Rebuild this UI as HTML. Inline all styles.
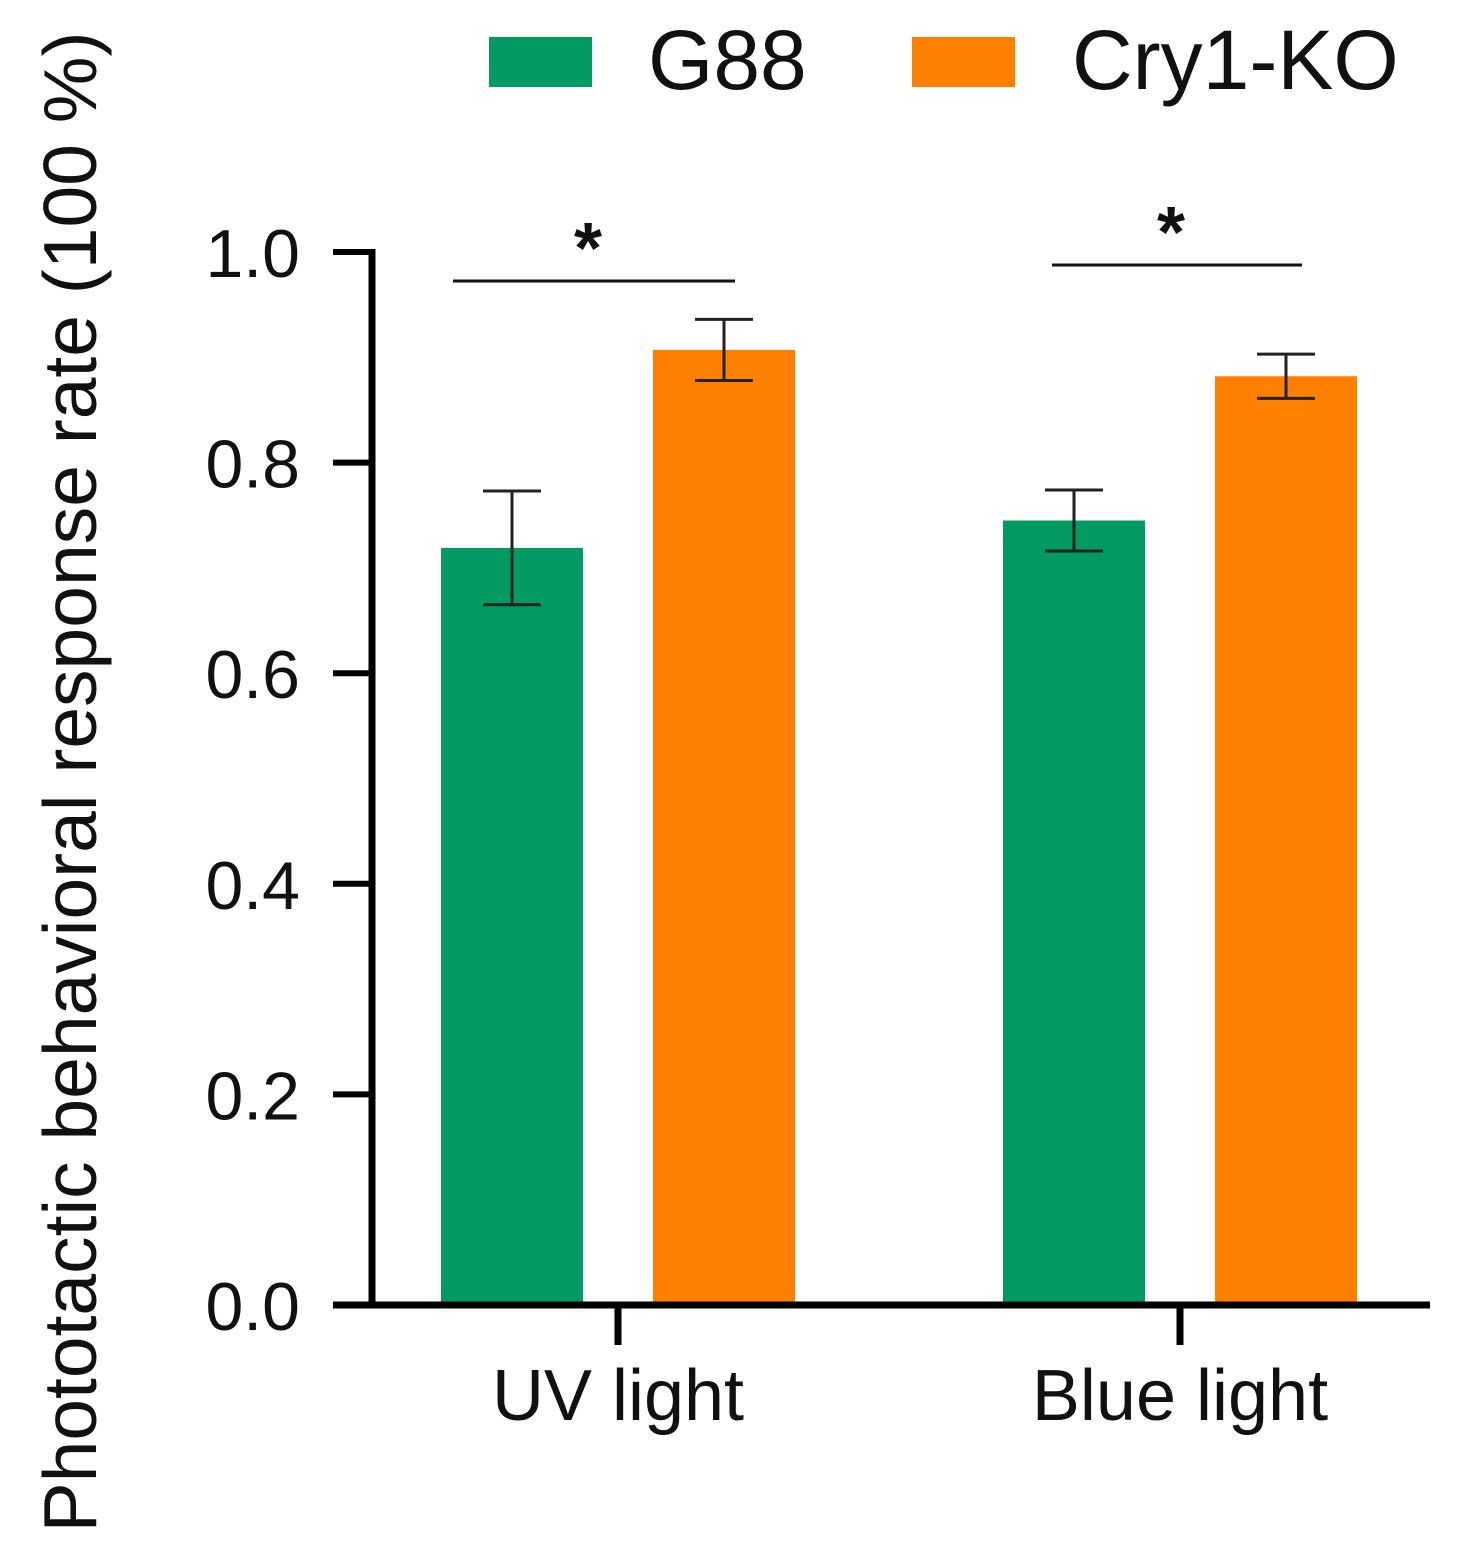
<!DOCTYPE html>
<html><head><meta charset="utf-8"><style>
html,body{margin:0;padding:0;background:#fff;}
svg text{font-family:"Liberation Sans",Arial,sans-serif;fill:#111;}
</style></head><body>
<svg id="chart" width="1459" height="1555" viewBox="0 0 1459 1555" xmlns="http://www.w3.org/2000/svg">
<g id="legend">
<rect x="489" y="37" width="103" height="50" fill="#009A62"/>
<text x="648" y="89" font-size="84">G88</text>
<rect x="912" y="37" width="103" height="50" fill="#FF8000"/>
<text x="1072" y="89" font-size="84">Cry1-KO</text>
</g>
<text transform="translate(96,782) rotate(-90)" text-anchor="middle" font-size="75">Phototactic behavioral response rate (100 %)</text>
<g id="plot"></g>
</svg>
<script>
const categories = ["UV light", "Blue light"];
const seriesNames = ["G88", "Cry1-KO"];
const g88Values = [0.719, 0.745];
const cryValues = [0.907, 0.882];
const g88Errors = [0.054, 0.029];
const cryErrors = [0.029, 0.021];
const yTicks = [0, 0.2, 0.4, 0.6, 0.8, 1.0];
const yTickLabels = ["0.0", "0.2", "0.4", "0.6", "0.8", "1.0"];
const sigLabels = ["*", "*"];

const NS = "http://www.w3.org/2000/svg";
const plot = document.getElementById("plot");
const y0 = 1305, y1 = 252;
const yScale = v => y0 - v * (y0 - y1);
const catCenters = [618, 1180];
const xCenter = i => catCenters[0] + i * (catCenters[1] - catCenters[0]);
const barW = 142, offset = 106;
const colors = ["#009A62", "#FF8000"];
const sigLayout = [{x1: 453, x2: 735, y: 281}, {x1: 1052, x2: 1302, y: 265}];
function mk(tag, attrs) { const e = document.createElementNS(NS, tag); for (const k in attrs) e.setAttribute(k, attrs[k]); plot.appendChild(e); return e; }

[g88Values, cryValues].forEach((vals, s) => {
  const errs = s === 0 ? g88Errors : cryErrors;
  vals.forEach((v, i) => {
    const cx = xCenter(i) + (s === 0 ? -offset : offset);
    const b = mk("rect", { x: cx - barW / 2, y: yScale(v), width: barW, height: y0 - yScale(v), fill: colors[s] });
    
    
    const hi = yScale(v + errs[i]), lo = yScale(v - errs[i]);
    const g = mk("path", { d: `M${cx} ${hi}V${lo}M${cx - 29} ${hi}H${cx + 29}M${cx - 29} ${lo}H${cx + 29}`, stroke: "#222", "stroke-width": 3, fill: "none" });
    
    
  });
});

categories.forEach((c, i) => {
  const L = sigLayout[i];
  const l = mk("line", { x1: L.x1, x2: L.x2, y1: L.y, y2: L.y, stroke: "#111", "stroke-width": 3 });
  
  
  const t = mk("text", { x: (L.x1 + L.x2) / 2 - 6, y: L.y - 8, "text-anchor": "middle", "font-size": 72, "font-weight": "bold" });
  t.textContent = sigLabels[i];
  
  
  const tk = mk("line", { x1: xCenter(i), x2: xCenter(i), y1: y0, y2: 1345, stroke: "#000", "stroke-width": 7 });
  
  
  const lb = mk("text", { x: xCenter(i), y: 1420, "text-anchor": "middle", "font-size": 72 });
  lb.textContent = c;
  
  
});

yTicks.forEach((v, i) => {
  const tk = mk("line", { x1: 333, x2: 372, y1: yScale(v), y2: yScale(v), stroke: "#000", "stroke-width": 6 });
  
  
  const t = mk("text", { x: 300, y: yScale(v) + 25, "text-anchor": "end", "font-size": 68 });
  t.textContent = yTickLabels[i];
  
  
});

const ya = mk("line", { x1: 372, x2: 372, y1: yScale(1) - 3, y2: y0 + 3, stroke: "#000", "stroke-width": 7 });


const xa = mk("line", { x1: 333, x2: 1430, y1: y0, y2: y0, stroke: "#000", "stroke-width": 7 });


</script>
</body></html>
